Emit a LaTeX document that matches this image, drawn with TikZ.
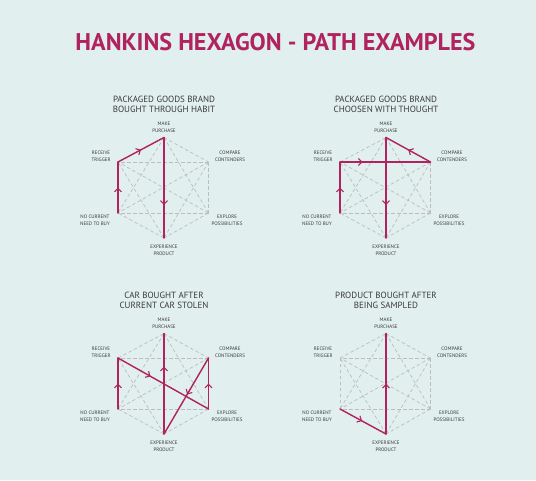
\documentclass[tikz,border=0pt]{standalone}
\usepackage{fontspec}
\setmainfont{PT Sans}
\usetikzlibrary{arrows.meta, decorations.markings}

\definecolor{bgteal}{HTML}{E1EFEF}
\definecolor{hexpink}{HTML}{B0235E}
\definecolor{hexgray}{HTML}{BDBDBD}
\definecolor{textgray}{HTML}{3A3A3A}

% one hexagon: prefix, centre, heading
\newcommand{\hankinshex}[3]{%
  \begin{scope}[shift={#2}]
    \coordinate (#1make) at (0,-50.5);
    \coordinate (#1compare) at (44.5,-26);
    \coordinate (#1explore) at (44.5,25);
    \coordinate (#1experience) at (0,50);
    \coordinate (#1nocurrent) at (-46,25);
    \coordinate (#1receive) at (-46,-26);
    \foreach \a/\b in {make/compare, compare/explore, explore/experience,
        experience/nocurrent, nocurrent/receive, receive/make,
        make/explore, make/experience, make/nocurrent,
        compare/experience, compare/nocurrent, compare/receive,
        explore/nocurrent, explore/receive, experience/receive}
      \draw[gridline] (#1\a) -- (#1\b);
    \node[vlabel] (#1makelbl) at (0,-61) {MAKE\\PURCHASE};
    \node[vlabel] (#1comparelbl) at (66,-32) {COMPARE\\CONTENDERS};
    \node[vlabel] (#1explorelbl) at (63,32) {EXPLORE\\POSSIBILITIES};
    \node[vlabel] (#1experiencelbl) at (0,62) {EXPERIENCE\\PRODUCT};
    \node[vlabel] (#1nocurrentlbl) at (-69,32) {NO CURRENT\\NEED TO BUY};
    \node[vlabel] (#1receivelbl) at (-63,-32) {RECEIVE\\TRIGGER};
    \node[heading] (#1heading) at (0,-84) {#3};
  \end{scope}%
}

\begin{document}
\begin{tikzpicture}[
    x=1pt, y=-1pt,
    % Clean styles
    maintitle/.style={
        font=\fontsize{26}{28}\selectfont\bfseries,
        text=hexpink,
        inner sep=0pt
    },
    heading/.style={
        font=\fontsize{9}{10}\selectfont,
        text=textgray,
        align=center,
        inner sep=0pt
    },
    vlabel/.style={
        font=\fontsize{5}{7.2}\selectfont,
        text=textgray,
        align=center,
        inner sep=0pt
    },
    gridline/.style={
        hexgray,
        line width=0.7pt,
        dash pattern=on 3.5pt off 2.5pt
    },
    route/.style={
        hexpink,
        line width=1.4pt,
        line cap=round
    },
    arrowat/.style={
        postaction={decorate},
        decoration={markings,
            mark=at position #1 with {\arrow[hexpink, line width=1.1pt]{Straight Barb[length=3.5pt, width=7pt]}}}
    }
]

% === Background ===
\fill[bgteal] (0,0) rectangle (536,480);
\useasboundingbox (0,0) rectangle (536,480);

% === Title ===
\node[maintitle] (title) at (275.5,42) {\resizebox{400pt}{!}{HANKINS HEXAGON - PATH EXAMPLES}};

% === Four hexagons ===
\hankinshex{a}{(164,188)}{PACKAGED GOODS BRAND\\BOUGHT THROUGH HABIT}
\hankinshex{b}{(386,188)}{PACKAGED GOODS BRAND\\CHOOSEN WITH THOUGHT}
\hankinshex{c}{(164,384)}{CAR BOUGHT AFTER\\CURRENT CAR STOLEN}
\hankinshex{d}{(386,384)}{PRODUCT BOUGHT AFTER\\BEING SAMPLED}

% === Habit ===
\draw[route, arrowat=0.5] (anocurrent) -- (areceive);
\draw[route, arrowat=0.5] (areceive) -- (amake);
\draw[route, arrowat=0.67] (amake) -- (aexperience);

% === Thought ===
\draw[route, arrowat=0.5] (bnocurrent) -- (breceive);
\draw[route, arrowat=0.25] (breceive) -- (bcompare);
\draw[route, arrowat=0.5] (bcompare) -- (bmake);
\draw[route, arrowat=0.67] (bmake) -- (bexperience);

% === Car stolen ===
\draw[route, arrowat=0.5] (cnocurrent) -- (creceive);
\draw[route, arrowat=0.36] (creceive) -- (cexplore);
\draw[route, arrowat=0.5] (cexplore) -- (ccompare);
\draw[route, arrowat=0.48] (ccompare) -- (cexperience);
\draw[route, arrowat=0.67] (cexperience) -- (cmake);

% === Sampled ===
\draw[route, arrowat=0.48] (dnocurrent) -- (dexperience);
\draw[route, arrowat=0.5] (dexperience) -- (dmake);

\end{tikzpicture}
\end{document}
